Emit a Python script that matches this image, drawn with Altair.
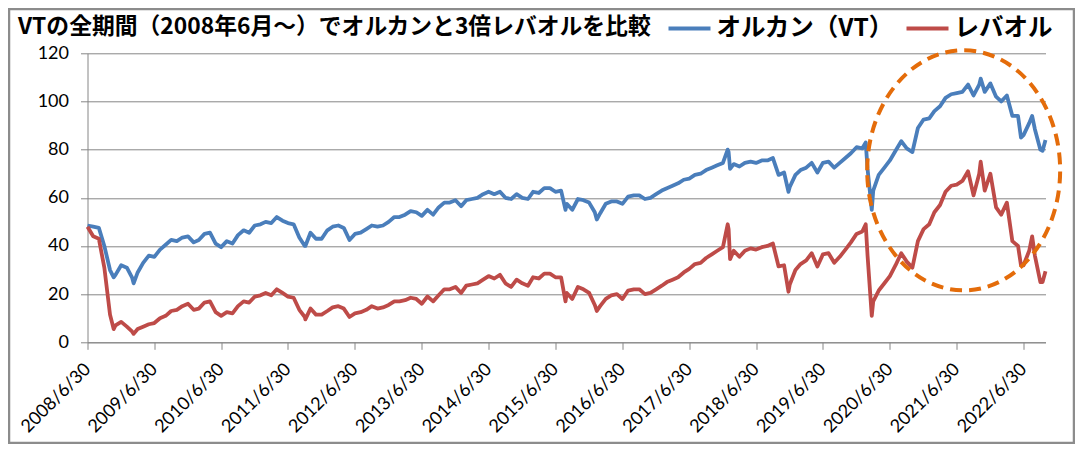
import calendar
import altair as alt
import pandas as pd

# ---------------- data ----------------
SERIES = ["オルカン（VT）", "レバオル"]
TITLE = "VTの全期間（2008年6月～）でオルカンと3倍レバオルを比較"

# month-end values, 2008-06 ... 2022-10
orukan_monthly = [
    48.5, 48, 47.5, 40, 30, 28, 32,                                   # 2008 Jun-Dec
    31, 27, 29, 33, 36, 35.5, 38.5, 40.5, 42.5, 42, 43.5, 44,         # 2009
    41.5, 42.5, 45, 45.5, 41, 39.5, 42, 41, 44.5, 46.5, 45.5, 48.5,   # 2010
    49, 50, 49.5, 52, 50.5, 49.5, 49, 43.5, 40, 45.5, 43, 43,         # 2011
    46.5, 48, 48.5, 47.5, 42.5, 45, 45.5, 47, 48.5, 48, 48.5, 50,     # 2012
    52, 52, 53, 54.5, 54, 52.5, 55, 53, 56, 58, 58, 59,               # 2013
    56.5, 59, 59.5, 60, 61.5, 62.5, 61.5, 62.5, 60, 59.5, 61.5, 60,   # 2014
    59.5, 62.5, 62, 64, 64, 62.5, 63, 57.5, 55, 59.5, 59, 58,         # 2015
    54, 53.5, 57.5, 58.5, 58.5, 57.5, 60.5, 61, 61, 59.5, 60, 61.5,   # 2016
    63, 64, 65, 66, 67.5, 68, 69.5, 70, 71.5, 72.5, 73.5, 74.5,       # 2017
    79, 74, 73, 74.5, 75, 74.5, 75.5, 75.5, 76.5, 69.5, 70.5, 64.5,   # 2018
    69.5, 71.5, 72.5, 74.5, 70.5, 74.5, 75, 72.5, 74.5, 76.5, 78.5, 81,  # 2019
    80.5, 72, 63, 69.5, 72.5, 75.5, 79.5, 83.5, 80.5, 79, 89, 92.5,   # 2020
    93, 96, 98, 101.5, 103, 103.5, 104, 107, 102.5, 107, 104, 107.5,  # 2021
    102, 100, 102.5, 94, 94, 86, 91, 88.5, 80, 84,                    # 2022 Jan-Oct
]
lever_monthly = [
    48, 44, 43, 31, 11.5, 7, 8.5,                                     # 2008 Jun-Dec
    6.5, 4.5, 5.5, 6.5, 7.5, 8, 10, 11, 13, 13.5, 15, 16,             # 2009
    13.5, 14, 16.5, 17, 12.5, 11, 12.5, 12, 15, 17, 16.5, 19,         # 2010
    19.5, 20.5, 19.5, 22, 20.5, 19, 18.5, 13.5, 10.5, 14, 11.5, 11.5, # 2011
    13, 14.5, 15, 14, 10.5, 12, 12.5, 13.5, 15, 14, 14.5, 15.5,       # 2012
    17, 17, 17.5, 18.5, 18, 16, 19, 17, 19.5, 22, 22, 23,             # 2013
    20.5, 23.5, 24, 24.5, 26, 27.5, 26.5, 28, 24.5, 23, 26, 24.5,     # 2014
    23.5, 27, 26.5, 28.5, 28.5, 27, 27, 20.5, 18, 23, 22, 20.5,       # 2015
    15.5, 15, 18, 19.5, 20, 18, 21.5, 22, 22, 20, 20.5, 22,           # 2016
    23.5, 25, 26, 27, 29, 30.5, 32.5, 33, 35, 36.5, 38, 39.5,         # 2017
    47, 38, 35.5, 38, 39, 38.5, 39.5, 40, 41, 31.5, 32, 24,           # 2018
    30, 32.5, 34, 37, 31.5, 36.5, 37, 33, 35.5, 38.5, 41.5, 45,       # 2019
    46, 36, 17, 21.5, 24.5, 27.5, 32, 37, 33.5, 31, 42, 47,           # 2020
    49, 54, 57, 62.5, 65, 65.5, 67, 71, 61, 70, 63, 70,               # 2021
    56, 53, 58, 42, 40, 32, 38, 36, 25, 29.5,                         # 2022 Jan-Oct
]

# intra-month extremes that are visible in the picture
extra_dates = ["2008-11-20", "2009-03-09", "2011-10-03", "2015-08-24", "2016-02-11",
               "2018-01-26", "2018-02-08", "2018-12-24", "2020-02-19", "2020-03-23",
               "2021-11-08", "2022-06-16", "2022-08-16", "2022-10-12"]
extra_orukan = [27, 24.5, 40, 55, 51, 80, 72, 62.5, 83, 55, 109.5, 85, 94, 79.5]
extra_lever = [5.5, 3.5, 9.5, 17, 13, 49, 34.5, 21, 49, 11, 75, 32, 44, 25]

LAST_DATE = "2022-10-28"
TICK_YEARS = list(range(2008, 2023))
Y_TICKS = [0, 20, 40, 60, 80, 100, 120]

# annotation ellipse centre
ELLIPSE_DATE = "2021-08-07"
ELLIPSE_VALUE = 71.4

# ---------------- styles ----------------
BLUE = "#4A7EBB"
RED = "#BE4B48"
ORANGE = "#E46C0A"
GRID = "#868686"
LABEL_FONT = "Lato"
CJK_FONT = "Noto Sans CJK JP"

W, H = 958, 289
PAD = {"left": 79.5, "top": 45.3, "right": 29.5, "bottom": 101.7}


def month_end(i):
    y = 2008 + (5 + i) // 12
    m = (5 + i) % 12 + 1
    d = calendar.monthrange(y, m)[1]
    return f"{y:04d}-{m:02d}-{d:02d}"


dates = [month_end(i) for i in range(len(orukan_monthly))]
dates[-1] = LAST_DATE

rows = []
for d, a, b in zip(dates + extra_dates, orukan_monthly + extra_orukan, lever_monthly + extra_lever):
    rows.append({"date": d, "value": a, "series": SERIES[0]})
    rows.append({"date": d, "value": b, "series": SERIES[1]})
df = pd.DataFrame(rows).sort_values(["series", "date"]).reset_index(drop=True)

color = alt.Color(
    "series:N",
    scale=alt.Scale(domain=SERIES, range=[BLUE, RED]),
    legend=alt.Legend(
        title=None, orient="none", legendX=579, legendY=-48, direction="horizontal",
        symbolType="stroke", symbolSize=1764, symbolStrokeWidth=4,
        labelFont=CJK_FONT, labelFontSize=24.5, labelFontWeight="bold", labelColor="black",
        labelOffset=4, columnPadding=4, labelLimit=400,
    ),
)

x = alt.X(
    "date:T",
    title=None,
    scale=alt.Scale(domain=[alt.DateTime(year=2008, month=6, date=30),
                            alt.DateTime(year=2022, month=10, date=28)]),
    axis=alt.Axis(
        values=[alt.DateTime(year=yy, month=6, date=30) for yy in TICK_YEARS],
        format="%Y/%-m/%-d", labelAngle=-45, labelAlign="right", labelBaseline="middle",
        labelFont=LABEL_FONT, labelFontSize=18, labelColor="black", labelPadding=17,
        tickSize=7, tickColor=GRID, domainColor=GRID, grid=False, labelOverlap=False,
        labelFlush=False,
    ),
)
y = alt.Y(
    "value:Q",
    title=None,
    scale=alt.Scale(domain=[0, 120]),
    axis=alt.Axis(
        values=Y_TICKS, labelFont=LABEL_FONT, labelFontSize=18, labelColor="black",
        labelPadding=12, tickSize=7, tickColor=GRID, domainColor=GRID,
        grid=True, gridColor=GRID, gridWidth=1,
    ),
)

base = alt.Chart(df)
blue_line = base.transform_filter(alt.datum.series == SERIES[0]).mark_line(
    strokeWidth=3.8, strokeJoin="round").encode(x=x, y=y, color=color)
red_line = base.transform_filter(alt.datum.series == SERIES[1]).mark_line(
    strokeWidth=3.8, strokeJoin="round").encode(x=x, y=y, color=color)

ellipse = alt.Chart(alt.Data(values=[{"date": ELLIPSE_DATE, "value": ELLIPSE_VALUE}])).mark_point(
    shape="M -0.804 0 A 0.804 1 0 1 1 0.804 0 A 0.804 1 0 1 1 -0.804 0 Z",
    size=57600, filled=False, stroke=ORANGE, strokeWidth=4, strokeDash=[12, 7], opacity=1,
).encode(x="date:T", y="value:Q")

title = alt.Chart(alt.Data(values=[{}])).mark_text(
    font=CJK_FONT, fontSize=22.8, fontWeight="bold", color="black", align="left",
    baseline="alphabetic",
).encode(x=alt.value(-69.5), y=alt.value(-19), text=alt.value(TITLE))

frame = alt.Chart(alt.Data(values=[{}])).mark_rect(
    filled=False, stroke="#8C8C8C", strokeWidth=2.5, fillOpacity=0,
).encode(x=alt.value(-78.5), x2=alt.value(986.5), y=alt.value(-44.3), y2=alt.value(389.7))

chart = alt.layer(frame, blue_line, red_line, ellipse, title).properties(
    width=W, height=H,
    autosize=alt.AutoSizeParams(type="none"),
    padding=PAD,
    background="white",
).configure_view(stroke="transparent")

chart.save("out.html", embed_options={"renderer": "svg", "actions": False})
